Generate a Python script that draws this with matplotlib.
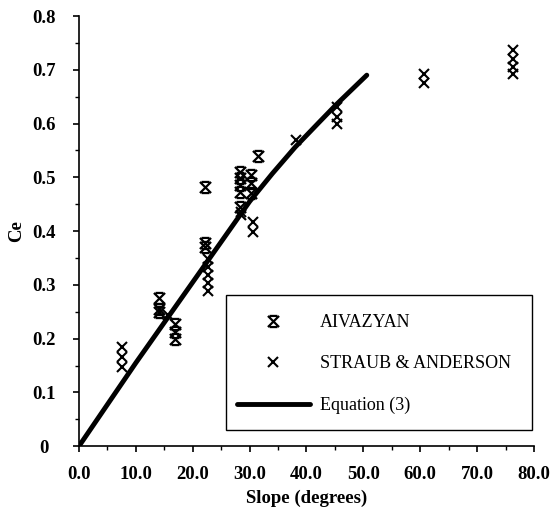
import matplotlib.pyplot as plt
from matplotlib.path import Path
from matplotlib.patches import Rectangle
from matplotlib.ticker import MultipleLocator, FormatStrFormatter, FuncFormatter

plt.rcParams['font.family'] = ['Liberation Serif', 'DejaVu Serif']

# AIVAZYAN measurements
aiv_slope = [14.0, 14.0, 14.0, 16.8, 16.8, 16.8, 22.1, 22.1, 22.1,
             28.3, 28.3, 28.3, 28.3, 28.3, 30.3, 30.3, 30.3, 31.5]
aiv_ce = [0.275, 0.255, 0.25, 0.228, 0.213, 0.2, 0.482, 0.378, 0.37,
          0.51, 0.499, 0.486, 0.473, 0.445, 0.504, 0.489, 0.47, 0.54]

# STRAUB & ANDERSON measurements
sa_slope = [7.6, 7.6, 7.6, 15.6, 22.6, 22.6, 22.6, 22.6, 22.6, 28.5, 28.5,
            30.6, 30.6, 38.1, 45.4, 45.4, 45.4, 60.6, 60.6,
            76.3, 76.3, 76.3, 76.3]
sa_ce = [0.185, 0.165, 0.148, 0.244, 0.349, 0.334, 0.318, 0.303, 0.288,
         0.436, 0.43, 0.417, 0.399, 0.569, 0.631, 0.612, 0.6, 0.692, 0.675,
         0.737, 0.721, 0.706, 0.693]

# Equation (3)
eq_slope = [0.0, 10.0, 20.0, 26.0, 30.0, 34.0, 38.0, 42.0, 45.3, 50.6]
eq_ce = [0.0, 0.155, 0.305, 0.395, 0.455, 0.507, 0.556, 0.600, 0.636, 0.69]

# x marker with bars on top and bottom
barred_x = Path(
    [(-1, -1), (1, 1), (-1, 1), (1, -1),
     (-0.7, 1), (0.7, 1), (-0.7, -1), (0.7, -1)],
    [Path.MOVETO, Path.LINETO, Path.MOVETO, Path.LINETO,
     Path.MOVETO, Path.LINETO, Path.MOVETO, Path.LINETO])

fig = plt.figure(figsize=(5.5, 5.17), dpi=100)
ax = fig.add_axes([0.1436, 0.137, 0.8273, 0.832])

ax.plot(aiv_slope, aiv_ce, linestyle='none', marker=barred_x, markersize=8,
        markerfacecolor='none', markeredgecolor='black', markeredgewidth=1.6,
        label='AIVAZYAN')
ax.plot(sa_slope, sa_ce, linestyle='none', marker='x', markersize=7.5,
        markeredgecolor='black', markeredgewidth=1.5,
        label='STRAUB & ANDERSON')
ax.plot(eq_slope, eq_ce, color='black', linewidth=3.5, solid_capstyle='round',
        solid_joinstyle='round', label='Equation (3)')

ax.set_xlim(0, 80)
ax.set_ylim(0, 0.8)
ax.xaxis.set_major_locator(MultipleLocator(10))
ax.xaxis.set_minor_locator(MultipleLocator(5))
ax.yaxis.set_major_locator(MultipleLocator(0.1))
ax.yaxis.set_minor_locator(MultipleLocator(0.05))
ax.xaxis.set_major_formatter(FormatStrFormatter('%.1f'))
ax.yaxis.set_major_formatter(FuncFormatter(lambda v, p: '0' if v == 0 else '%.1f' % v))

for side in ['top', 'right']:
    ax.spines[side].set_visible(False)
for side in ['left', 'bottom']:
    ax.spines[side].set_linewidth(1.2)

ax.tick_params(which='major', direction='out', length=4, width=1.2,
               labelsize=13.5)
ax.tick_params(which='minor', direction='out', length=3, width=1.0)
ax.tick_params(axis='x', which='major', pad=10)
ax.tick_params(axis='y', which='major', pad=21)
for lbl in ax.get_xticklabels() + ax.get_yticklabels():
    lbl.set_fontweight('bold')
for lbl in ax.get_yticklabels():
    lbl.set_horizontalalignment('center')

ax.set_xlabel('Slope (degrees)', fontsize=13.5, fontweight='bold', labelpad=5)
ax.set_ylabel('Ce', fontsize=13.5, fontweight='bold', labelpad=5)

# legend box drawn separately so the padding can be larger vertically
ax.add_patch(Rectangle((0.323, 0.037), 0.673, 0.314, transform=ax.transAxes,
                       facecolor='white', edgecolor='black', linewidth=1.0,
                       zorder=4, clip_on=False))
ax.legend(loc='upper left', bbox_to_anchor=(0.347, 0.307), frameon=False,
          fontsize=13, borderpad=0, borderaxespad=0, labelspacing=1.35,
          handlelength=4.05, handletextpad=0.55)

plt.savefig('out.png', dpi=100)
